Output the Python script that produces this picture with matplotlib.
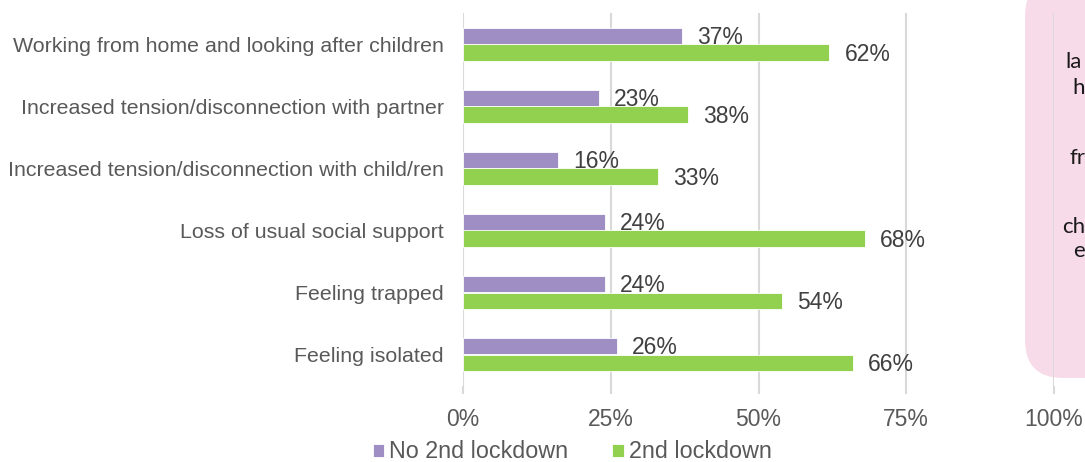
import matplotlib.pyplot as plt
import numpy as np
from matplotlib.patches import FancyBboxPatch

categories = [
    'Working from home and looking after children',
    'Increased tension/disconnection with partner',
    'Increased tension/disconnection with child/ren',
    'Loss of usual social support',
    'Feeling trapped',
    'Feeling isolated',
]
no_lockdown = [37, 23, 16, 24, 24, 26]
lockdown = [62, 38, 33, 68, 54, 66]
series_names = ['No 2nd lockdown', '2nd lockdown']
xticks = [0, 25, 50, 75, 100]

purple = '#9E8EC4'
green = '#92D050'
grey_text = '#595959'
grid_grey = '#D9D9D9'

plt.rcParams['font.family'] = ['Liberation Sans', 'DejaVu Sans']

W, H = 1085, 462
fig = plt.figure(figsize=(W / 100, H / 100), dpi=100)
ax = fig.add_axes([463 / W, 1 - 385.5 / H, (1054 - 463) / W, (385.5 - 13.5) / H])
ax.set_facecolor('none')

# pink call-out box on the right, cut by the figure edge
box = FancyBboxPatch((1025, 462 - 378), 120, 400,
                     boxstyle='round,pad=0,rounding_size=38',
                     transform=None, facecolor='#F8DBE9', edgecolor='none',
                     zorder=-1)
fig.patches.append(box)
for frag, x, y in [('la', 1065, 62), ('h', 1072, 88), ('fr', 1070, 158),
                   ('ch', 1062, 227), ('e', 1073, 251)]:
    fig.text(x / W, 1 - y / H, frag, fontsize=16, family='Lato',
             color='#1a1a1a', va='center', ha='left')

y = np.arange(len(categories))
h = 0.27
b1 = ax.barh(y - h / 2, no_lockdown, height=h, color=purple,
             edgecolor='white', linewidth=0.6, label=series_names[0], zorder=3)
b2 = ax.barh(y + h / 2, lockdown, height=h, color=green,
             edgecolor='white', linewidth=0.6, label=series_names[1], zorder=3)

for bars, vals in [(b1, no_lockdown), (b2, lockdown)]:
    for bar, v in zip(bars, vals):
        ax.annotate(f'{v}%', (v, bar.get_y() + bar.get_height() / 2),
                    xytext=(11, -1), textcoords='offset points',
                    ha='left', va='center', fontsize=16.5, color='#404040',
                    zorder=4)

ax.set_xlim(0, 100)
ax.set_ylim(len(categories) - 0.5, -0.5)
ax.set_yticks(y)
ax.set_yticklabels(categories, fontsize=15.4, color=grey_text)
ax.set_xticks(xticks)
ax.set_xticklabels([f'{t}%' for t in xticks], fontsize=16.5, color=grey_text)
ax.tick_params(axis='y', length=0, pad=14)
ax.tick_params(axis='x', length=6, width=1.5, color=grid_grey, pad=10)
ax.grid(axis='x', color=grid_grey, linewidth=1.5, zorder=0)
ax.set_axisbelow(True)
for s in ax.spines.values():
    s.set_visible(False)

fig.legend(handles=[b1, b2], loc='center', bbox_to_anchor=(572 / W, 1 - 452 / H),
           ncol=2, frameon=False, fontsize=16.8, handlelength=0.5,
           handleheight=0.5, handletextpad=0.2, columnspacing=1.9,
           labelcolor=grey_text, borderaxespad=0, borderpad=0)

fig.savefig('out.png', dpi=100)
